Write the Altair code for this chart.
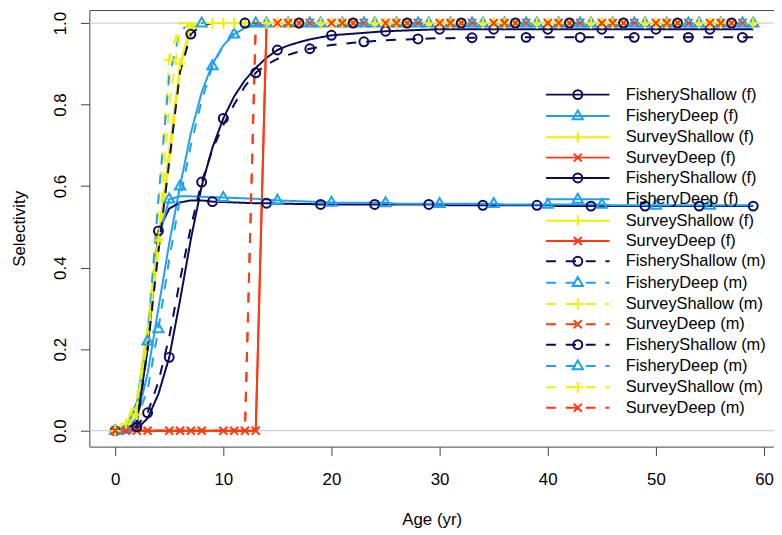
import altair as alt
import pandas as pd

# ------------------------------------------------------------
# Data (selectivity at age, 16 series)
# ------------------------------------------------------------

ages = list(range(60))

labels = [
    "FisheryShallow (f)", "FisheryDeep (f)", "SurveyShallow (f)", "SurveyDeep (f)",
    "FisheryShallow (f)", "FisheryDeep (f)", "SurveyShallow (f)", "SurveyDeep (f)",
    "FisheryShallow (m)", "FisheryDeep (m)", "SurveyShallow (m)", "SurveyDeep (m)",
    "FisheryShallow (m)", "FisheryDeep (m)", "SurveyShallow (m)", "SurveyDeep (m)",
]
fleets = ["FisheryShallow", "FisheryDeep", "SurveyShallow", "SurveyDeep"]
fleet_colors = ["#0A0A5A", "#20A0F0", "#F0F000", "#FF3A10"]

fs_f1 = ([0, 0.0, 0.005, 0.03, 0.09, 0.18, 0.32, 0.47, 0.6, 0.695, 0.766,
          0.82, 0.86, 0.89, 0.915, 0.934, 0.945, 0.953, 0.96, 0.965, 0.97]
         + [0.972, 0.974, 0.976, 0.978, 0.98, 0.981, 0.982, 0.983, 0.984]
         + [0.985] * 30)
fd_f1 = [0, 0.003, 0.03, 0.14, 0.3, 0.46, 0.6, 0.73, 0.83, 0.9, 0.945,
         0.973, 0.988, 0.995] + [1.0] * 46
ss_f1 = [0, 0.01, 0.04, 0.22, 0.44, 0.66, 0.885, 0.99] + [1.0] * 52
sd_f1 = [0.0] * 14 + [1.0] * 46

fs_f2 = ([0, 0.003, 0.02, 0.2, 0.49, 0.545, 0.56, 0.565, 0.565, 0.562, 0.561,
          0.56, 0.559, 0.558, 0.558, 0.557, 0.557, 0.556, 0.556, 0.555, 0.555]
         + [0.555] * 10 + [0.553] * 10 + [0.551] * 19)
fd_f2 = ([0, 0.01, 0.07, 0.25, 0.47, 0.568, 0.575, 0.575, 0.574, 0.573, 0.572,
          0.571, 0.57, 0.569, 0.567, 0.565, 0.564, 0.563, 0.562, 0.561, 0.56]
         + [0.559] * 5 + [0.557] * 10 + [0.555] * 10 + [0.553] * 14)
ss_f2 = [0, 0.017, 0.06, 0.25, 0.47, 0.69, 0.9, 0.995] + [1.0] * 52
sd_f2 = [0.0] * 14 + [1.0] * 46

fs_m1 = ([0, 0.002, 0.012, 0.044, 0.12, 0.23, 0.37, 0.5, 0.61, 0.69, 0.75,
          0.8, 0.845, 0.878, 0.898, 0.912, 0.922, 0.93, 0.937, 0.942, 0.946]
         + [0.949, 0.952, 0.954, 0.956, 0.958, 0.959, 0.96, 0.961, 0.962,
            0.963, 0.963, 0.964, 0.964]
         + [0.965] * 26)
fd_m1 = [0, 0.005, 0.03, 0.1, 0.25, 0.42, 0.57, 0.7, 0.81, 0.895, 0.945,
         0.975, 0.99, 0.997] + [1.0] * 46
ss_m1 = [0, 0.02, 0.08, 0.25, 0.55, 0.91] + [1.0] * 54
sd_m1 = [0.0] * 13 + [1.0] * 47

fs_m2 = [0, 0.0, 0.01, 0.2, 0.44, 0.66, 0.88, 0.973, 0.995] + [1.0] * 51
fd_m2 = [0, 0.01, 0.06, 0.22, 0.57, 0.87, 0.98] + [1.0] * 53
ss_m2 = [0, 0.02, 0.07, 0.22, 0.467, 0.8, 0.98] + [1.0] * 53
sd_m2 = [0.0] * 13 + [1.0] * 47

series = [fs_f1, fd_f1, ss_f1, sd_f1, fs_f2, fd_f2, ss_f2, sd_f2,
          fs_m1, fd_m1, ss_m1, sd_m1, fs_m2, fd_m2, ss_m2, sd_m2]

rows = []
for i, vals in enumerate(series):
    for a, v in zip(ages, vals):
        rows.append({
            "sid": f"{i:02d}",
            "fleet": fleets[i % 4],
            "sex": "f" if i < 8 else "m",
            "age": a,
            "sel": v,
            # markers every 5 ages, offset shifts with the series number
            "mark": (a - i % 5) % 5 == 0,
        })
df = pd.DataFrame(rows)

# ------------------------------------------------------------
# Marker shapes (R pch 1, 2, 3, 4) and legend keys (line + marker)
# ------------------------------------------------------------

circle = "M-1,0A1,1 0 1,1 1,0A1,1 0 1,1 -1,0Z"
triangle = "M0,-1.25L1.15,0.75L-1.15,0.75Z"
plus = "M-1.25,0L1.25,0M0,-1.25L0,1.25"
cross = "M-0.9,-0.9L0.9,0.9M-0.9,0.9L0.9,-0.9"
markers = [circle, triangle, plus, cross]

solid_key = "M-7.1,0L7.1,0"
dashed_key = "M-7.1,0L-4.9,0M-2.7,0L-0.4,0M1.8,0L4,0M6.2,0L7.1,0"

sids = [f"{i:02d}" for i in range(16)]
key_shapes = [(solid_key if i < 8 else dashed_key) + markers[i % 4] for i in range(16)]
key_colors = [fleet_colors[i % 4] for i in range(16)]
label_expr = "[" + ",".join(f"'{l}'" for l in labels) + "][toNumber(datum.value)]"

# ------------------------------------------------------------
# Chart
# ------------------------------------------------------------

x_enc = alt.X(
    "age:Q",
    scale=alt.Scale(domain=[-2.385, 60.92], nice=False, zero=False),
    axis=alt.Axis(
        values=[0, 10, 20, 30, 40, 50, 60], title="Age (yr)", grid=False,
        domain=False, tickSize=9, tickColor="#444", labelColor="black",
        labelFontSize=17, labelPadding=16, labelFlush=False,
        titleFontSize=17, titleFontWeight="normal", titleColor="black",
        titlePadding=25,
    ),
)
y_enc = alt.Y(
    "sel:Q",
    scale=alt.Scale(domain=[-0.039, 1.032], nice=False, zero=False),
    axis=alt.Axis(
        values=[0, 0.2, 0.4, 0.6, 0.8, 1.0], format=".1f", title="Selectivity",
        grid=False, domain=False, tickSize=9, tickColor="#444",
        labelColor="black", labelFontSize=17, labelAngle=270,
        labelAlign="center", labelBaseline="bottom", labelPadding=11,
        labelFlush=False, titleFontSize=17, titleFontWeight="normal",
        titleColor="black", titlePadding=23,
    ),
)

ref = (
    alt.Chart(pd.DataFrame({"sel": [0.0, 1.0]}))
      .mark_rule(color="#C4C4C4", strokeWidth=1)
      .encode(y=y_enc)
)

lines = (
    alt.Chart(df)
      .mark_line(strokeWidth=2)
      .encode(
          x=x_enc,
          y=y_enc,
          color=alt.Color("fleet:N", scale=alt.Scale(domain=fleets, range=fleet_colors), legend=None),
          strokeDash=alt.StrokeDash("sex:N", scale=alt.Scale(domain=["f", "m"], range=[[1, 0], [10, 10]]), legend=None),
          detail="sid:N",
      )
)

points = (
    alt.Chart(df)
      .transform_filter("datum.mark")
      .mark_point(filled=False, opacity=1, size=81, strokeWidth=2)
      .encode(
          x=x_enc,
          y=y_enc,
          color=alt.Color("fleet:N", scale=alt.Scale(domain=fleets, range=fleet_colors), legend=None),
          shape=alt.Shape("fleet:N", scale=alt.Scale(domain=fleets, range=markers), legend=None),
      )
)

# legend only: no marks drawn, keys come from the scale domains
legend_layer = (
    alt.Chart(df)
      .transform_filter("false")
      .mark_point(filled=False, opacity=1, size=81, strokeWidth=2)
      .encode(
          color=alt.Color(
              "sid:N",
              scale=alt.Scale(domain=sids, range=key_colors),
              legend=alt.Legend(
                  title=None, orient="none", legendX=484, legendY=77,
                  symbolSize=81, symbolStrokeWidth=2, labelFontSize=16.5,
                  labelColor="black", labelOffset=40, rowPadding=2.5,
                  padding=0, labelExpr=label_expr, symbolOpacity=1,
              ),
          ),
          shape=alt.Shape("sid:N", scale=alt.Scale(domain=sids, range=key_shapes), legend=None),
      )
)

chart = (
    alt.layer(ref, lines, points, legend_layer)
      .resolve_scale(color="independent", shape="independent")
      .properties(
          width=690,
          height=440,
          autosize=alt.AutoSizeParams(type="none"),
          padding={"left": 82, "top": 0, "right": 0, "bottom": 84},
      )
      .configure(font="Liberation Sans")
      .configure_view(stroke="#444", strokeWidth=1)
)

chart.save("out.html", embed_options={"renderer": "svg", "actions": False})
